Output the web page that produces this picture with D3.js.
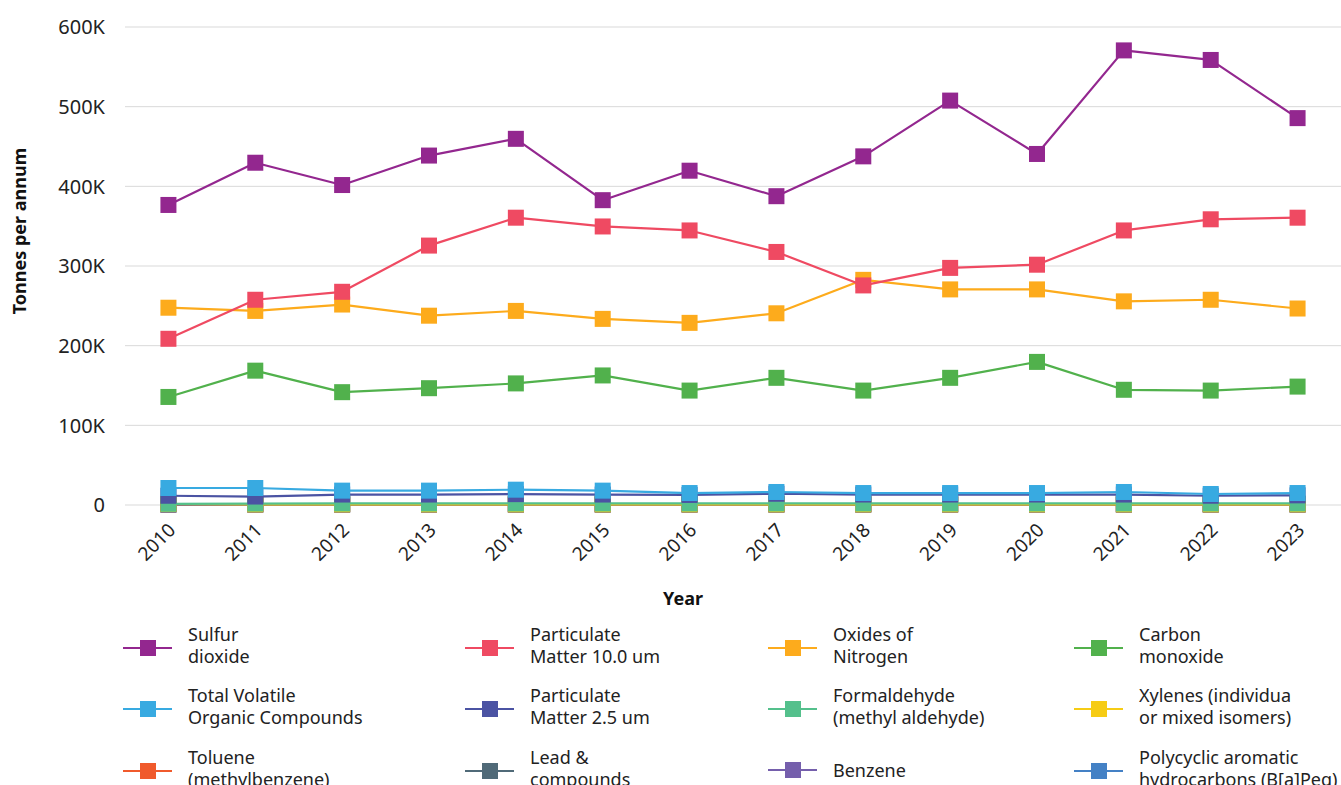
<!DOCTYPE html>
<html>
<head>
<meta charset="utf-8">
<script src="https://cdn.jsdelivr.net/npm/d3@7/dist/d3.min.js"></script>
<style>
  html, body { margin: 0; padding: 0; background: #fff; }
  svg { display: block; font-family: "Noto Sans", "Open Sans", sans-serif; }
</style>
</head>
<body>
<svg id="chart" width="1341" height="785"></svg>
<script>
const years = ["2010","2011","2012","2013","2014","2015","2016","2017","2018","2019","2020","2021","2022","2023"];

const seriesNames = [
  "Sulfur dioxide",
  "Particulate Matter 10.0 um",
  "Oxides of Nitrogen",
  "Carbon monoxide",
  "Total Volatile Organic Compounds",
  "Particulate Matter 2.5 um",
  "Formaldehyde (methyl aldehyde)",
  "Xylenes (individual or mixed isomers)",
  "Toluene (methylbenzene)",
  "Lead & compounds",
  "Benzene",
  "Polycyclic aromatic hydrocarbons (B[a]Peq)"
];

const legendLines = [
  ["Sulfur", "dioxide"],
  ["Particulate", "Matter 10.0 um"],
  ["Oxides of", "Nitrogen"],
  ["Carbon", "monoxide"],
  ["Total Volatile", "Organic Compounds"],
  ["Particulate", "Matter 2.5 um"],
  ["Formaldehyde", "(methyl aldehyde)"],
  ["Xylenes (individua", "or mixed isomers)"],
  ["Toluene", "(methylbenzene)"],
  ["Lead &", "compounds"],
  ["Benzene"],
  ["Polycyclic aromatic", "hydrocarbons (B[a]Peq)"]
];

const sulfurDioxide = [376000, 429000, 401000, 438000, 459000, 382000, 419000, 387000, 437000, 507000, 440000, 570000, 558000, 485000];
const pm10 = [208000, 257000, 267000, 325000, 360000, 349000, 344000, 317000, 275000, 297000, 301000, 344000, 358000, 360000];
const oxidesOfNitrogen = [247000, 243000, 251000, 237000, 243000, 233000, 228000, 240000, 282000, 270000, 270000, 255000, 257000, 246000];
const carbonMonoxide = [135000, 168000, 141000, 146000, 152000, 162000, 143000, 159000, 143000, 159000, 179000, 144000, 143000, 148000];
const tvoc = [20700, 20700, 17400, 17400, 18600, 17400, 14400, 15700, 14400, 14400, 14400, 15700, 13200, 14400];
const pm25 = [11000, 10000, 12500, 12500, 13000, 12500, 12000, 13500, 12500, 12500, 12500, 12500, 11000, 11500];
const formaldehyde = [900, 1200, 1300, 1300, 1300, 1300, 1300, 1300, 1300, 1300, 1300, 1300, 1300, 1300];
const xylenes = [600, 200, 200, 200, 200, 200, 200, 200, 200, 200, 200, 200, 200, 200];
const toluene = [400, 400, 400, 400, 400, 400, 400, 400, 400, 400, 400, 400, 400, 400];
const leadCompounds = [5, 5, 5, 5, 5, 5, 5, 5, 5, 5, 5, 5, 5, 5];
const benzene = [150, 150, 150, 150, 150, 150, 150, 150, 150, 150, 150, 150, 150, 150];
const pah = [1, 1, 1, 1, 1, 1, 1, 1, 1, 1, 1, 1, 1, 1];

const yTicks = [0, 100000, 200000, 300000, 400000, 500000, 600000];
const yTickLabels = ["0", "100K", "200K", "300K", "400K", "500K", "600K"];

const colors = ["#93278f", "#ef4a62", "#fdab1c", "#51b14c", "#38aae1", "#4b53a3",
                "#54c08c", "#f6cc15", "#f05a2c", "#506a78", "#755fac", "#4481c5"];

const allValues = [sulfurDioxide, pm10, oxidesOfNitrogen, carbonMonoxide, tvoc, pm25,
                   formaldehyde, xylenes, toluene, leadCompounds, benzene, pah];

const series = seriesNames.map((name, i) => ({
  name, color: colors[i], lines: legendLines[i],
  values: allValues[i].map((v, j) => ({ year: years[j], value: v }))
}));

const svg = d3.select("#chart");
const plotLeft = 125, plotRight = 1341, plotTop = 26.5, plotBottom = 504.5;

const x = d3.scalePoint().domain(years).range([plotLeft, plotRight]).padding(0.5);
const y = d3.scaleLinear().domain([0, 600000]).range([plotBottom, plotTop]);

// gridlines
const grid = svg.append("g").attr("transform", `translate(${plotLeft},0)`)
  .call(d3.axisLeft(y).tickValues(yTicks).tickSize(-(plotRight - plotLeft)).tickFormat(""));
grid.select(".domain").remove();
grid.selectAll(".tick line").attr("stroke", "#d9d9d9").attr("stroke-width", 1);

// y axis labels
const yAxis = svg.append("g").attr("transform", `translate(105,0)`)
  .call(d3.axisLeft(y).tickValues(yTicks).tickSize(0).tickPadding(0)
    .tickFormat((d, i) => yTickLabels[i]));
yAxis.select(".domain").remove();
yAxis.selectAll("text").attr("font-size", 20).attr("fill", "#222")
  .attr("font-family", '"Noto Sans", sans-serif').attr("dy", "0.36em");

// x axis labels
const xAxis = svg.append("g").attr("transform", `translate(0,${plotBottom})`)
  .call(d3.axisBottom(x).tickSize(0).tickPadding(0));
xAxis.select(".domain").remove();
xAxis.selectAll("text")
  .attr("font-size", 19).attr("fill", "#222")
  .attr("font-family", '"Noto Sans", sans-serif')
  .attr("text-anchor", "end")
  .attr("dy", "0.35em")
  .attr("transform", "translate(3,22) rotate(-45)");

// axis titles
svg.append("text")
  .attr("transform", "translate(26,231) rotate(-90)")
  .attr("text-anchor", "middle")
  .attr("font-size", 18).attr("font-weight", "bold").attr("fill", "#111")
  .text("Tonnes per annum");
svg.append("text")
  .attr("x", 683).attr("y", 605)
  .attr("text-anchor", "middle")
  .attr("font-size", 18).attr("font-weight", "bold").attr("fill", "#111")
  .text("Year");

// lines & markers (drawn in reverse so first series is on top)
const line = d3.line().x(d => x(d.year)).y(d => y(d.value));
const drawOrder = series.slice().reverse();
const gSeries = svg.append("g");
drawOrder.forEach(s => {
  const g = gSeries.append("g");
  g.append("path").datum(s.values)
    .attr("d", line).attr("fill", "none")
    .attr("stroke", s.color).attr("stroke-width", 2.2)
    .attr("stroke-linejoin", "round");
  g.selectAll("rect").data(s.values).enter().append("rect")
    .attr("x", d => x(d.year) - 8).attr("y", d => y(d.value) - 8)
    .attr("width", 16).attr("height", 16)
    .attr("fill", s.color);
});

// legend
const colX = [123, 465, 768, 1074];
const rowFirstCenter = [634, 695, 757];
const legend = svg.append("g");
series.forEach((s, i) => {
  const col = i % 4, row = Math.floor(i / 4);
  const gx = colX[col];
  const nLines = s.lines.length;
  const lineH = 22.5;
  const firstCenter = nLines === 1 ? rowFirstCenter[row] + 13 : rowFirstCenter[row];
  const symY = nLines === 1 ? firstCenter : firstCenter + 14;
  const g = legend.append("g").attr("transform", `translate(${gx},0)`);
  g.append("line").attr("x1", 0).attr("x2", 49).attr("y1", symY).attr("y2", symY)
    .attr("stroke", s.color).attr("stroke-width", 2.2);
  g.append("rect").attr("x", 17).attr("y", symY - 8).attr("width", 16).attr("height", 16)
    .attr("fill", s.color);
  const t = g.append("text").attr("font-size", 18).attr("fill", "#222");
  s.lines.forEach((ln, k) => {
    t.append("tspan").attr("x", 65).attr("y", firstCenter + 6.5 + k * lineH).text(ln);
  });
});
</script>
</body>
</html>
